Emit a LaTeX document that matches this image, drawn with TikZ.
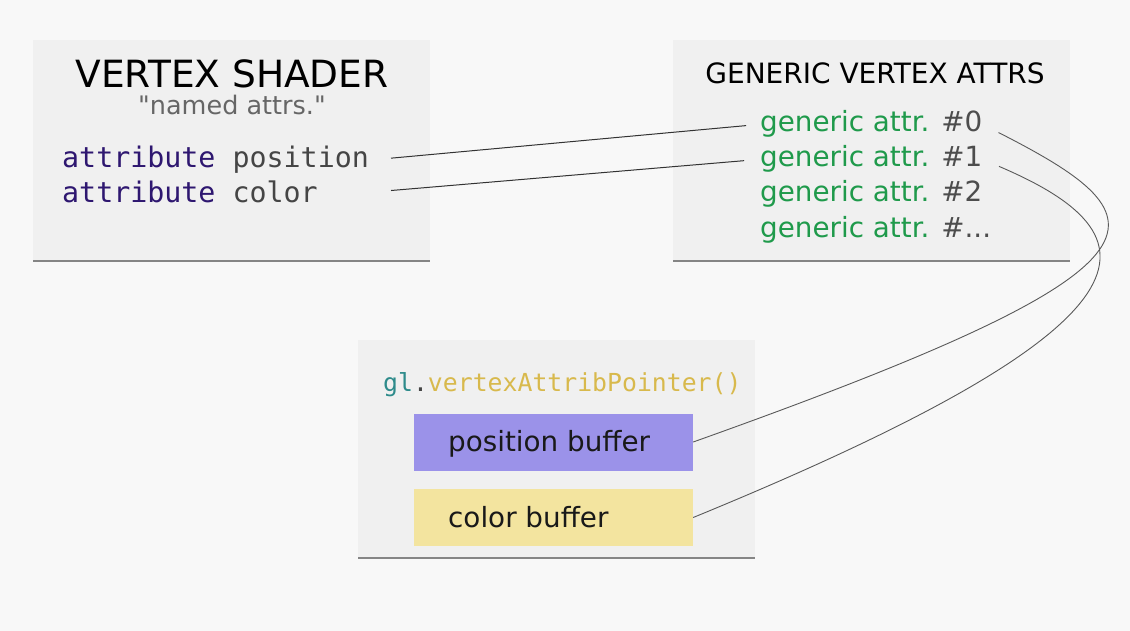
\documentclass[tikz,border=0pt]{standalone}
\usepackage{fontspec}
\setmainfont{DejaVu Sans}
\newfontfamily\plainfont{DejaVu Sans}
\newfontfamily\codefont{DejaVu Sans Mono}
\definecolor{bgcol}{HTML}{F8F8F8}
\definecolor{panelcol}{HTML}{F0F0F0}
\definecolor{rulecol}{HTML}{858585}
\definecolor{kwcol}{HTML}{2E1770}
\definecolor{idcol}{HTML}{454545}
\definecolor{attrcol}{HTML}{1F9A4B}
\definecolor{numcol}{HTML}{4D4D4D}
\definecolor{glcol}{HTML}{2E8B8B}
\definecolor{fncol}{HTML}{D8B94C}
\definecolor{posbufcol}{HTML}{9B92E9}
\definecolor{colbufcol}{HTML}{F3E49F}
\tikzset{
  panel/.style={fill=panelcol},
  rule/.style={draw=rulecol,line width=1.4pt},
  txt/.style={inner sep=0pt,anchor=base west},
  code/.style={txt,font=\codefont\fontsize{28.3}{34}\selectfont},
  gattr/.style={txt,text=attrcol,font=\fontsize{27.8}{33}\selectfont},
  buffer/.style={minimum width=279pt,minimum height=57pt,inner sep=0pt},
  buftext/.style={txt,text=black!90,font=\fontsize{27.8}{33}\selectfont},
  link/.style={draw=black!80,line width=1pt},
  curve/.style={draw=black!65,line width=0.9pt},
}
\begin{document}
\begin{tikzpicture}[x=1pt,y=-1pt]
\fill[bgcol] (0,0) rectangle (1130,631);
\useasboundingbox (0,0) rectangle (1130,631);
% panels
\fill[panel] (33,40) rectangle (430,261);
\fill[panel] (673,40) rectangle (1070,261);
\fill[panel] (358,340) rectangle (755,558);
\draw[rule] (33,261) -- (430,261);
\draw[rule] (673,261) -- (1070,261);
\draw[rule] (358,558) -- (755,558);

% vertex shader
\node[inner sep=0pt,anchor=base,font=\fontsize{37.5}{44}\selectfont] (title) at (232,88) {VERTEX SHADER};
\node[inner sep=0pt,anchor=base,text=black!60,font=\plainfont\fontsize{25.5}{30}\selectfont] (named) at (232,115) {"named attrs."};
\node[code] (pos) at (62,168) {\textcolor{kwcol}{attribute} \textcolor{idcol}{position}};
\node[code] (col) at (62,203) {\textcolor{kwcol}{attribute} \textcolor{idcol}{color}};

% generic attributes
\node[inner sep=0pt,anchor=base,font=\fontsize{28}{33}\selectfont] (gtitle) at (875,84) {GENERIC VERTEX ATTRS};
\node[gattr] (g0) at (760,132) {generic attr. \textcolor{numcol}{\#0}};
\node[gattr] (g1) at (760,167) {generic attr. \textcolor{numcol}{\#1}};
\node[gattr] (g2) at (760,202) {generic attr. \textcolor{numcol}{\#2}};
\node[gattr] (g3) at (760,237) {generic attr. \textcolor{numcol}{\#...}};

% buffers
\node[txt,font=\codefont\fontsize{24.8}{30}\selectfont] (call) at (383,391) {\textcolor{glcol}{gl}\textcolor{idcol}{.}\textcolor{fncol}{vertexAttribPointer()}};
\node[buffer,fill=posbufcol] (pbuf) at (553.5,442) {};
\node[buffer,fill=colbufcol] (cbuf) at (553.5,517.5) {};
\node[buftext] (ptext) at (448,451) {position buffer};
\node[buftext] (ctext) at (448,527) {color buffer};

% connectors
\draw[link,shorten <=22pt,shorten >=14pt] (pos.east) -- (g0.west);
\draw[link,shorten <=22pt,shorten >=16pt] (col.east -| pos.east) -- (g1.west);
\draw[curve,shorten <=18pt] (g0.east) .. controls (1170,220) and (1190,265) .. (pbuf.east);
\draw[curve,shorten <=18pt] (g1.east) .. controls (1160,235) and (1175,320) .. (cbuf.east);
\end{tikzpicture}
\end{document}
